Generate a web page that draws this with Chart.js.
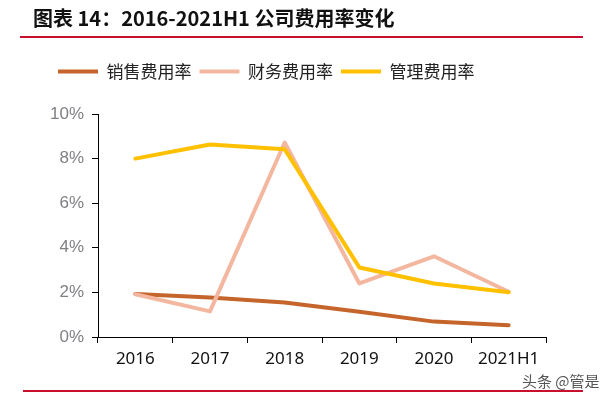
<!DOCTYPE html>
<html>
<head>
<meta charset="utf-8">
<script src="https://cdn.jsdelivr.net/npm/chart.js@4/dist/chart.umd.min.js"></script>
<style>
  html, body { margin: 0; padding: 0; background: #fff; }
  #wrap { position: relative; width: 616px; height: 400px; overflow: hidden; }
  #chart { position: absolute; left: 0; top: 0; }
  .title {
    position: absolute; left: 33px; top: 3px;
    font: bold 20px "Noto Sans CJK SC", sans-serif; color: #111;
    white-space: nowrap;
  }
  .rule { position: absolute; height: 2px; background: #c8102e; }
  .mark {
    position: absolute; left: 522px; top: 370px;
    font: 15px "Noto Sans CJK SC", sans-serif; color: #555;
  }
</style>
</head>
<body>
<div id="wrap">
  <canvas id="chart" width="616" height="400"></canvas>
  <div class="title">图表 14：2016-2021H1 公司费用率变化</div>
  <div class="rule" style="left:20px;top:36px;width:563px;"></div>
  <div class="rule" style="left:23px;top:390px;width:560px;"></div>
  <div class="mark">头条 @管是</div>
</div>
<script>
// categories / series (%)
const years = ["2016", "2017", "2018", "2019", "2020", "2021H1"];
const salesRate = [1.93, 1.77, 1.55, 1.13, 0.69, 0.53];
const financeRate = [1.92, 1.15, 8.72, 2.4, 3.62, 2.03];
const adminRate = [8.0, 8.63, 8.42, 3.12, 2.4, 2.01];
const yTicks = [0, 2, 4, 6, 8, 10];

const seriesNames = ["销售费用率", "财务费用率", "管理费用率"];
const seriesColors = ["#c5652b", "#f3b7a0", "#ffc000"];

// leave room under the legend
const legendGap = {
    id: "legendGap",
    beforeInit(chart) {
        const fit = chart.legend.fit;
        chart.legend.fit = function () {
            fit.bind(chart.legend)();
            this.height += 24;
        };
    },
};

const mkLine = (i, data, order) => ({
    label: seriesNames[i],
    data,
    borderColor: seriesColors[i],
    backgroundColor: seriesColors[i],
    borderWidth: 4,
    pointRadius: 0,
    tension: 0,
    borderCapStyle: "round",
    borderJoinStyle: "round",
    order,
});

new Chart(document.getElementById("chart"), {
    type: "line",
    data: {
        labels: years,
        datasets: [
            mkLine(0, salesRate, 3),
            mkLine(1, financeRate, 2),
            mkLine(2, adminRate, 1),
        ],
    },
    options: {
        responsive: false,
        animation: false,
        layout: { padding: { top: 55, left: 50, right: 70, bottom: 28 } },
        plugins: {
            legend: {
                position: "top",
                align: "start",
                labels: {
                    boxWidth: 40,
                    boxHeight: 4,
                    padding: 8,
                    color: "#222",
                    font: { family: "'Noto Sans CJK SC', sans-serif", size: 17 },
                    sort: (a, b) => a.datasetIndex - b.datasetIndex,
                    generateLabels(chart) {
                        return Chart.defaults.plugins.legend.labels.generateLabels(chart)
                            .map(it => Object.assign(it, { lineWidth: 0 }));
                    },
                },
            },
            tooltip: { enabled: false },
        },
        scales: {
            x: {
                offset: true,
                grid: { offset: true, drawOnChartArea: false, color: "#000", tickLength: 6 },
                border: { color: "#000", width: 1 },
                ticks: {
                    color: "#111",
                    padding: 6,
                    font: { family: "'Noto Sans', sans-serif", size: 17 },
                },
                afterFit(s) { s.height = 35; },
            },
            y: {
                min: 0,
                max: 10,
                afterBuildTicks(s) { s.ticks = yTicks.map(v => ({ value: v })); },
                grid: { drawOnChartArea: false, color: "#000", tickLength: 6 },
                border: { color: "#000", width: 1 },
                ticks: {
                    color: "#7f7f85",
                    padding: 8,
                    font: { family: "'Liberation Sans', Arial, sans-serif", size: 17 },
                    callback: (v) => v + "%",
                },
                afterFit(s) { s.width = 48; },
            },
        },
    },
    plugins: [legendGap],
});
</script>
</body>
</html>
